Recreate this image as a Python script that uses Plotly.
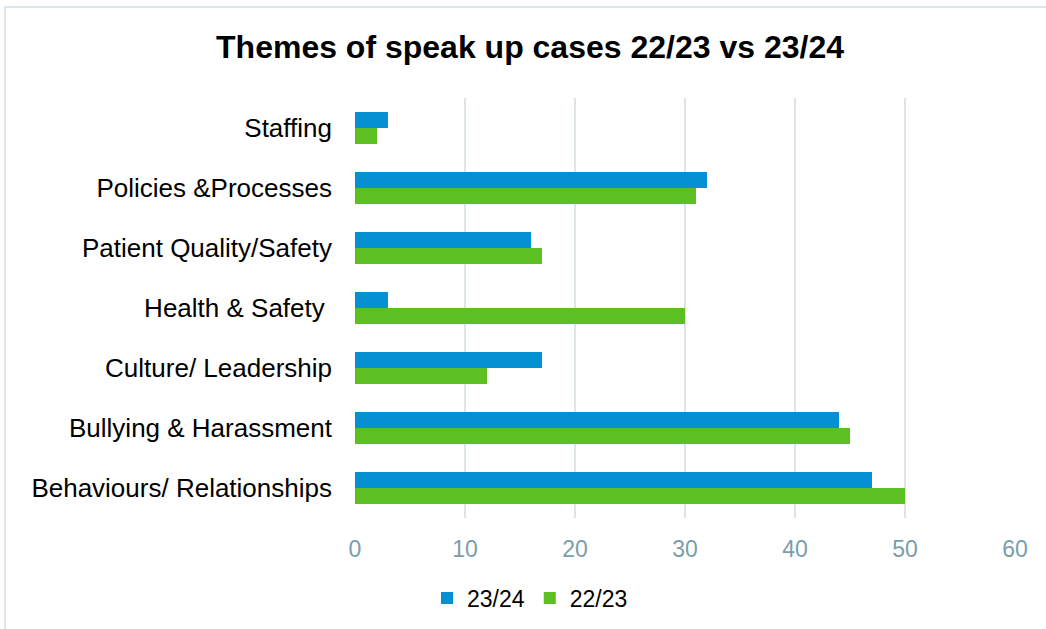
import plotly.graph_objects as go

# Speak-up case themes, listed top to bottom as shown on the chart
themes = [
    "Staffing",
    "Policies &Processes",
    "Patient Quality/Safety",
    "Health & Safety ",
    "Culture/ Leadership",
    "Bullying & Harassment",
    "Behaviours/ Relationships",
]
cases_2324 = [3, 32, 16, 3, 17, 44, 47]
cases_2223 = [2, 31, 17, 30, 12, 45, 50]
x_ticks = [0, 10, 20, 30, 40, 50, 60]

BLUE = "#0590D4"
GREEN = "#5CBF22"
GRID = "#DCE6EA"
TICK = "#7A9EA9"
FONT = "Liberation Sans, Arial, sans-serif"

W, H = 1046, 629
ML, MR, MT, MB = 355, 31, 98, 111
PW, PH = W - ML - MR, H - MT - MB

fig = go.Figure()
fig.add_trace(go.Bar(
    y=themes, x=cases_2324, name="23/24", orientation="h",
    marker=dict(color=BLUE, line=dict(width=0)),
))
fig.add_trace(go.Bar(
    y=themes, x=cases_2223, name="22/23", orientation="h",
    marker=dict(color=GREEN, line=dict(width=0)),
))

# Light frame around the chart area
def px_x(p):
    return (p - ML) / PW

def px_y(p):
    return (H - MB - p) / PH

fig.add_shape(
    type="rect", xref="paper", yref="paper",
    x0=px_x(5), x1=px_x(1060), y0=px_y(650), y1=px_y(7),
    line=dict(color="#DDE7EB", width=2), fillcolor="rgba(0,0,0,0)", layer="below",
)

fig.update_layout(
    width=W, height=H,
    margin=dict(l=ML, r=MR, t=MT, b=MB),
    paper_bgcolor="white", plot_bgcolor="white",
    barmode="group", bargap=0.467, bargroupgap=0,
    font=dict(family=FONT, color="black"),
    title=dict(
        text="<b>Themes of speak up cases 22/23 vs 23/24</b>",
        x=530 / W, xref="container", xanchor="center",
        y=1 - 47 / H, yref="container", yanchor="middle",
        font=dict(size=32, family=FONT, color="black"),
    ),
    xaxis=dict(
        range=[0, 60], tickvals=x_ticks,
        showgrid=True, gridcolor=GRID, gridwidth=2,
        zeroline=False, showline=False, ticks="",
        tickfont=dict(size=23, color=TICK, family=FONT),
        ticklabelstandoff=15,
    ),
    yaxis=dict(
        autorange="reversed", showgrid=False, zeroline=False,
        showline=False, ticks="",
        tickfont=dict(size=26, color="black", family=FONT),
        ticklabelstandoff=22,
    ),
    legend=dict(
        orientation="h", x=530 / W, xref="container", xanchor="center",
        y=1 - 598 / H, yref="container", yanchor="middle",
        font=dict(size=23, color="black", family=FONT),
        itemwidth=30,
    ),
)

fig.write_html("out.html")
